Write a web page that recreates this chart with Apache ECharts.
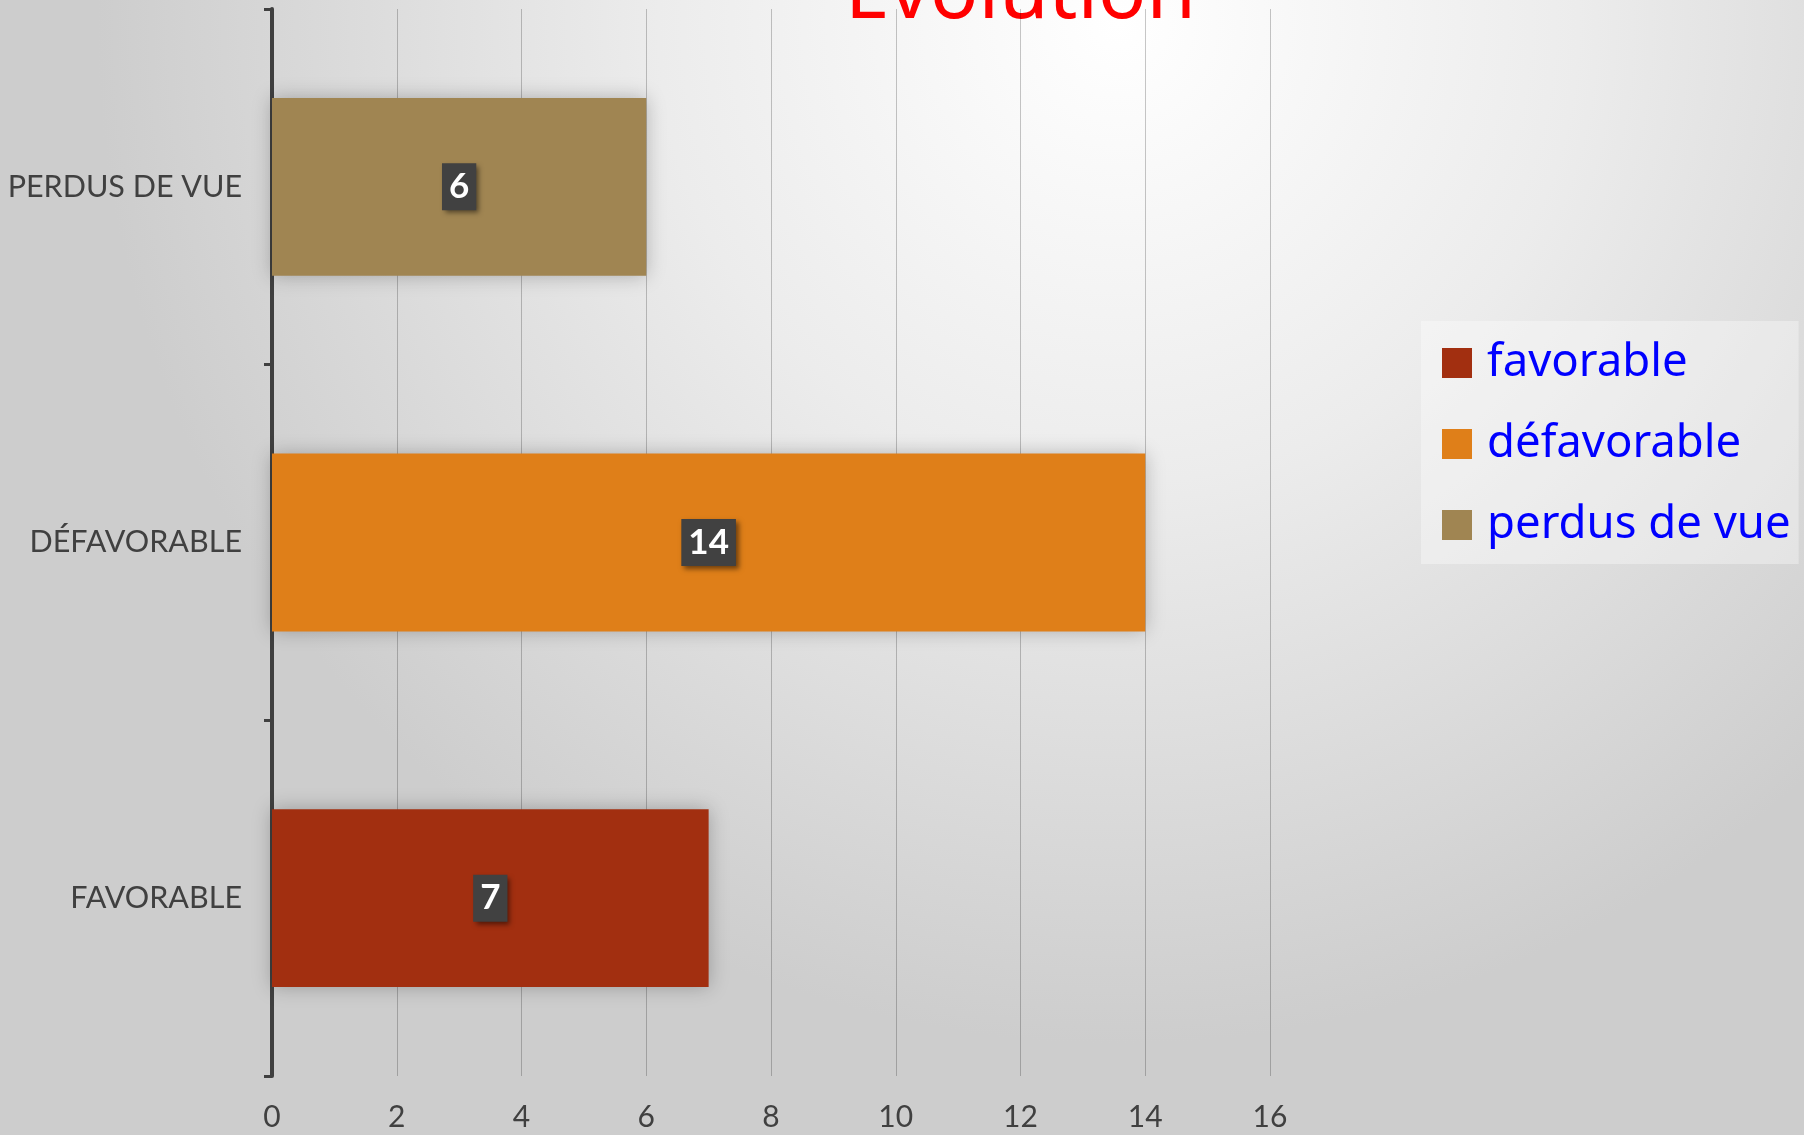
<!DOCTYPE html>
<html>
<head>
<meta charset="utf-8">
<script src="https://cdn.jsdelivr.net/npm/echarts@6/dist/echarts.min.js"></script>
<style>
  html, body { margin: 0; padding: 0; }
  #chart { width: 1804px; height: 1135px; }
</style>
</head>
<body>
<div id="chart"></div>
<script>
// ---- données ----
var categories  = ["FAVORABLE", "DÉFAVORABLE", "PERDUS DE VUE"];
var seriesNames = ["favorable", "défavorable", "perdus de vue"];
var values      = [7, 14, 6];
var barColors   = ["#A22F10", "#DF7F19", "#A08552"];
var xTicks      = [0, 16, 2];   // min, max, interval

var chart = echarts.init(document.getElementById("chart"));

// une série par catégorie (empilées pour rester centrées)
var series = seriesNames.map(function(name, i) {
  return {
    name: name,
    type: "bar",
    stack: "all",
    barWidth: "50%",
    data: categories.map(function(c, j) { return j === i ? values[i] : "-"; }),
    itemStyle: {
      color: barColors[i],
      shadowBlur: 18,
      shadowColor: "rgba(0,0,0,0.25)"
    },
    label: {
      show: true,
      position: "inside",
      color: "#fff",
      fontFamily: "Lato",
      fontWeight: "bold",
      fontSize: 35,
      backgroundColor: "#414141",
      padding: [7, 7, 5, 7],
      shadowBlur: 5,
      shadowOffsetX: 3,
      shadowOffsetY: 3,
      shadowColor: "rgba(0,0,0,0.5)"
    }
  };
});

chart.setOption({
  animation: false,
  backgroundColor: new echarts.graphic.RadialGradient(0.62, 0.02, 0.9, [
    { offset: 0, color: "#ffffff" },
    { offset: 0.45, color: "#ececec" },
    { offset: 1, color: "#cdcdcd" }
  ]),
  graphic: [{
    type: "text",
    left: 845,
    top: -45,
    style: {
      text: "Evolution",
      fill: "#ff0000",
      font: "80px 'Noto Sans'"
    }
  }],
  legend: {
    orient: "vertical",
    left: 1421,
    top: 321,
    padding: [19, 8, 16, 21],
    backgroundColor: "rgba(255,255,255,0.35)",
    itemWidth: 30,
    itemHeight: 30,
    itemGap: 35,
    icon: "rect",
    data: seriesNames,
    textStyle: {
      color: "#0000ff",
      fontFamily: "Noto Sans",
      fontSize: 45.5,
      lineHeight: 30,
      padding: [0, 0, 0, 10]
    }
  },
  grid: { left: 272, right: 534, top: 9, bottom: 59 },
  xAxis: {
    type: "value",
    min: xTicks[0],
    max: xTicks[1],
    interval: xTicks[2],
    axisLine: { show: false },
    axisTick: { show: false },
    axisLabel: { color: "#404040", fontFamily: "Lato", fontSize: 30, margin: 26 },
    splitLine: { lineStyle: { color: "rgba(0,0,0,0.22)", width: 1 } }
  },
  yAxis: {
    type: "category",
    data: categories,
    axisLine: { show: true, lineStyle: { color: "#404040", width: 4 } },
    axisTick: { show: true, length: 8, lineStyle: { color: "#404040", width: 3 } },
    axisLabel: { color: "#404040", fontFamily: "Lato", fontSize: 30.5, margin: 30 }
  },
  series: series
});
</script>
</body>
</html>
